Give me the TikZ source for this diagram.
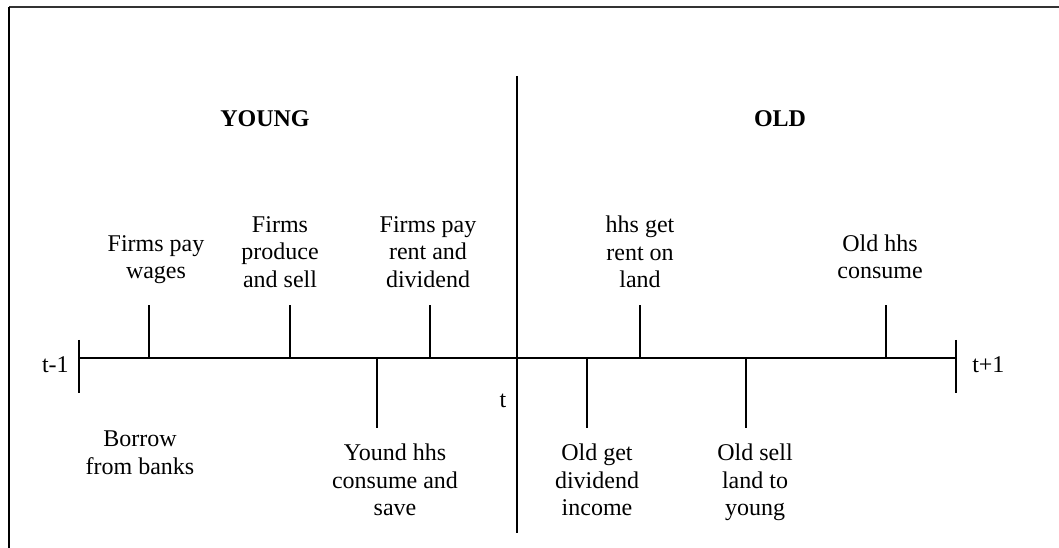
\documentclass[tikz,border=0pt]{standalone}
\usepackage{fontspec}
\setmainfont{Liberation Serif}
\usepackage{tikz}
\usetikzlibrary{positioning,calc}
\tikzset{
  axis/.style={line width=1.5pt},
  tickline/.style={line width=1.5pt},
  lbl/.style={align=center,inner sep=0pt,font=\fontsize{18}{20.7}\selectfont,
    execute at begin node=\strut,execute at end node=\strut},
  heading/.style={lbl,font=\fontsize{18}{20.7}\selectfont\bfseries}
}
\newcommand{\evtick}[3]{\coordinate (#1) at (#2,358); \coordinate (#1end) at (#2,#3);
  \draw[tickline] (#1)--(#1end);}

\begin{document}
\begin{tikzpicture}[x=0.75pt,y=-0.75pt]
\useasboundingbox (0,0) rectangle (1059,548);
% frame
\coordinate (frtl) at (9,7);
\draw[line width=1.5pt,black!80] (frtl)--(1059,7);
\draw[line width=1.5pt] (frtl)--(9,548);
% time axis
\coordinate (tstart) at (79,358);
\coordinate (tend) at (956,358);
\draw[axis] (tstart)--(tend);
\draw[tickline] (79,340)--(79,393);
\draw[tickline] (956,340)--(956,393);
\node[lbl,anchor=east] (tm1) at (69,367) {t-1};
\node[lbl,anchor=west] (tp1) at (972,367) {t+1};
% divider young / old
\coordinate (divtop) at (517,76);
\coordinate (divbot) at (517,533);
\draw[line width=1.3pt] (divtop)--(divbot);
\node[lbl] (tmid) at (503,402) {t};
\node[heading] (young) at (265,121) {YOUNG};
\node[heading] (old) at (780,121) {OLD};
% events above the axis
\evtick{wages}{149}{305}
\evtick{produce}{290}{305}
\evtick{rent}{430}{305}
\evtick{landrent}{640}{305}
\evtick{oldcons}{886}{305}
\node[lbl] (wageslbl) at (156,261) {Firms pay\\wages};
\node[lbl] (producelbl) at (280,256) {Firms\\produce\\and sell};
\node[lbl] (rentlbl) at (428,256) {Firms pay\\rent and\\dividend};
\node[lbl] (landrentlbl) at (640,256) {hhs get\\rent on\\land};
\node[lbl] (oldconslbl) at (880,261) {Old hhs\\consume};
% events below the axis
\evtick{youngcons}{377}{428}
\evtick{divinc}{587}{428}
\evtick{sellland}{746}{428}
\node[lbl] (borrowlbl) at (140,457) {Borrow\\from banks};
\node[lbl] (youngconslbl) at (395,484) {Yound hhs\\consume and\\save};
\node[lbl] (divinclbl) at (597,484) {Old get\\dividend\\income};
\node[lbl] (selllandlbl) at (755,484) {Old sell\\land to\\young};
\end{tikzpicture}
\end{document}
